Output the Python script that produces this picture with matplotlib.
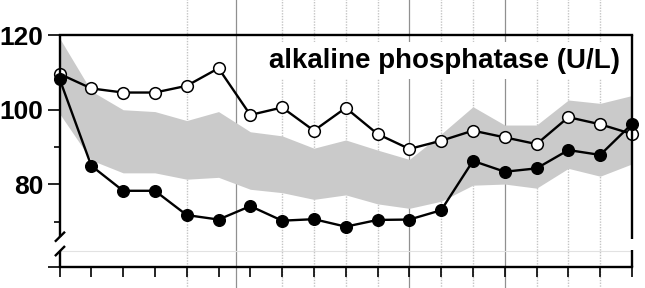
import numpy as np
import matplotlib
matplotlib.use("Agg")
import matplotlib.pyplot as plt

plt.rcParams['font.family'] = ['Liberation Sans', 'DejaVu Sans']

# data
visits = np.arange(19)
open_vals = [109.6, 105.7, 104.6, 104.6, 106.4, 111.1, 98.6, 100.6, 94.4, 100.5,
             93.5, 89.5, 91.7, 94.4, 92.6, 90.8, 98.0, 96.1, 93.5]
filled_vals = [108.3, 85.0, 78.3, 78.3, 71.8, 70.6, 74.2, 70.3, 70.7, 68.7,
               70.5, 70.6, 73.1, 86.3, 83.4, 84.3, 89.2, 87.9, 96.2]
band_upper = [119.2, 105.0, 100.0, 99.5, 97.1, 99.5, 94.1, 93.0, 89.7, 91.9,
              89.2, 86.7, 93.5, 100.8, 95.9, 95.9, 102.6, 101.7, 103.8]
band_lower = [99.0, 86.5, 83.1, 83.1, 81.4, 81.9, 78.7, 77.8, 76.0, 77.2,
              74.8, 73.6, 75.5, 79.8, 80.1, 79.0, 84.3, 82.2, 85.5]
ytick_major = [120, 100, 80]
ytick_minor = [90, 70]
ybottom = 57.9
baseline_val = 62.1

# background vertical lines (from the composite figure)
dotted_lines = [4, 7, 8, 9, 10, 12, 13, 15, 16, 17]
solid_lines = [5.55, 11, 14]

fig = plt.figure(figsize=(6.45, 2.88), dpi=100)
ax = fig.add_axes([59.5 / 645, 21 / 288, 572.5 / 645, 232 / 288])

for x in dotted_lines:
    ax.axvline(x, ymin=-0.1, ymax=1.16, color='#c4c4c4', lw=1.0,
               ls=(0, (1, 1)), clip_on=False, zorder=0)
for x in solid_lines:
    ax.axvline(x, ymin=-0.1, ymax=1.16, color='#909090', lw=0.9,
               clip_on=False, zorder=0)

ax.axhline(baseline_val, color='#e2e2e2', lw=0.8, zorder=0.5)

ax.fill_between(visits, band_lower, band_upper, color='#cacaca', lw=0, zorder=1)

ax.plot(visits, open_vals, color='black', lw=1.7, marker='o', ms=8.4,
        mfc='white', mec='black', mew=1.1, clip_on=False, zorder=3)
ax.plot(visits, filled_vals, color='black', lw=1.7, marker='o', ms=8.4,
        mfc='black', mec='black', clip_on=False, zorder=4)

ax.set_xlim(0, 18)
ax.set_ylim(ybottom, 120)

ax.set_xticks(visits)
ax.set_xticklabels([])
ax.tick_params(axis='x', direction='out', length=7.2, width=1.2, color='black')

ax.set_yticks(ytick_major + [ybottom])
ax.set_yticklabels([str(v) for v in ytick_major] + [''])
ax.set_yticks(ytick_minor, minor=True)
ax.tick_params(axis='y', which='major', direction='out', length=8.6, width=1.2,
               pad=3.2, labelsize=19)
ax.tick_params(axis='y', which='minor', direction='out', length=4.3, width=1.2)
for lab in ax.get_yticklabels():
    lab.set_fontweight('bold')

# spines: top/bottom normal, left/right drawn with a break
ax.spines['top'].set_linewidth(1.7)
ax.spines['bottom'].set_linewidth(1.7)
ax.spines['left'].set_visible(False)
ax.spines['right'].set_visible(False)
kw = dict(transform=ax.transAxes, color='black', lw=1.7, clip_on=False,
          solid_capstyle='butt', zorder=5)
ax.plot([0, 0], [1, 0.13], **kw)
ax.plot([0, 0], [0.07, 0], **kw)
ax.plot([1, 1], [1, 0.119], **kw)
ax.plot([1, 1], [0.073, 0], **kw)
# break marks
ax.plot([-0.008, 0.0096], [0.109, 0.152], **kw)
ax.plot([-0.008, 0.0096], [0.047, 0.0905], **kw)

ax.text(0.979, 0.858, 'alkaline phosphatase (U/L)', transform=ax.transAxes,
        ha='right', va='baseline', fontsize=20, fontweight='bold', zorder=6,
        bbox=dict(facecolor='white', edgecolor='none', pad=4))

fig.savefig('out.png', dpi=100)
